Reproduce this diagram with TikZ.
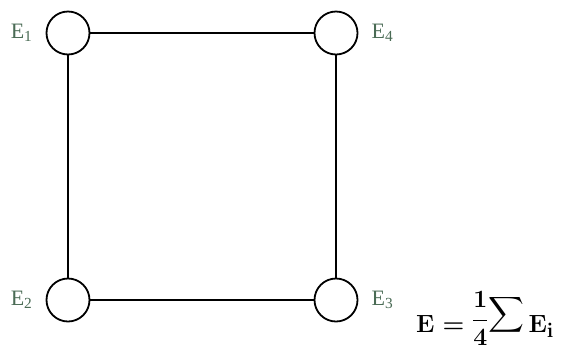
\documentclass[tikz,border=0pt]{standalone}
\usepackage{amsmath}
\usepackage{fontspec}
\newfontfamily\lblfont{Liberation Serif}
\usetikzlibrary{positioning}

\definecolor{lblgreen}{HTML}{4A6B55}

\tikzset{
  site/.style={circle, draw=black, line width=1.8pt, minimum size=43pt, inner sep=0pt},
  bond/.style={line width=1.8pt},
  lbl/.style={text=lblgreen, font=\lblfont\fontsize{22}{24}\selectfont, inner sep=1pt}
}

\begin{document}
\begin{tikzpicture}[x=1pt, y=-1pt]
  \useasboundingbox (0,0) rectangle (561,349);

  % the four sites
  \node[site] (c1) at (68,33) {};
  \node[site] (c4) at (336,33) {};
  \node[site] (c2) at (68,300) {};
  \node[site] (c3) at (336,300) {};

  % edges of the square
  \draw[bond] (c1) -- (c4);
  \draw[bond] (c4) -- (c3);
  \draw[bond] (c3) -- (c2);
  \draw[bond] (c2) -- (c1);

  % labels
  \node[lbl, left=12pt of c1] (e1) {E\textsubscript{1}};
  \node[lbl, right=12pt of c4] (e4) {E\textsubscript{4}};
  \node[lbl, left=12pt of c2] (e2) {E\textsubscript{2}};
  \node[lbl, right=12pt of c3] (e3) {E\textsubscript{3}};

  % average energy
  \node[anchor=base west, inner sep=0pt, font=\fontsize{32}{36}\selectfont\boldmath] (avg) at (416,332)
    {$\mathbf{E}=\raisebox{5.5pt}{\fontsize{26}{30}\selectfont\boldmath$\displaystyle\frac{1}{4}$}%
     \raisebox{10.5pt}{\fontsize{25}{28}\selectfont\boldmath$\displaystyle\sum$}\hspace{4pt}\mathbf{E}_\mathbf{i}$};
\end{tikzpicture}
\end{document}
